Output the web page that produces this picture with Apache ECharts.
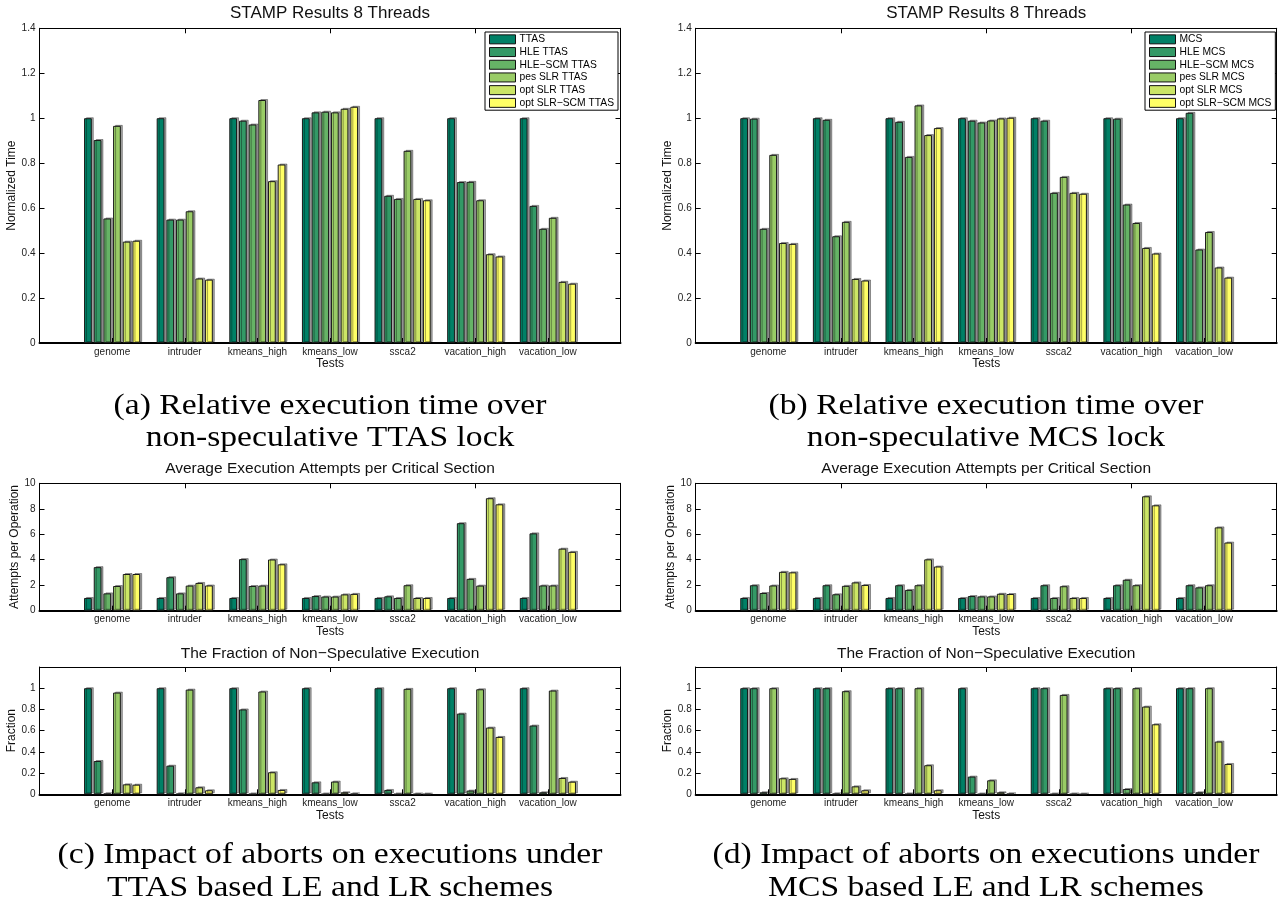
<!DOCTYPE html>
<html>
<head>
<meta charset="utf-8">
<script src="https://cdn.jsdelivr.net/npm/echarts@6/dist/echarts.min.js"></script>
<style>
  html, body { margin: 0; padding: 0; background: #fff; }
  #chart { width: 1285px; height: 909px; }
</style>
</head>
<body>
<div id="chart"></div>
<script>
// STAMP benchmarks, 8 threads
const tests = ['genome', 'intruder', 'kmeans_high', 'kmeans_low', 'ssca2', 'vacation_high', 'vacation_low'];
const ttasSchemes = ['TTAS', 'HLE TTAS', 'HLE\u2212SCM TTAS', 'pes SLR TTAS', 'opt SLR TTAS', 'opt SLR\u2212SCM TTAS'];
const mcsSchemes = ['MCS', 'HLE MCS', 'HLE\u2212SCM MCS', 'pes SLR MCS', 'opt SLR MCS', 'opt SLR\u2212SCM MCS'];
// summer colormap, one colour per scheme
const schemeColors = ['#008066', '#339966', '#66B366', '#99CC66', '#CCE666', '#FFFF66'];

// One row per scheme, one column per test
const ttasTime = [
  [1, 1, 1, 1, 1, 1, 1],
  [0.903, 0.549, 0.989, 1.026, 0.655, 0.716, 0.610],
  [0.554, 0.549, 0.972, 1.029, 0.641, 0.717, 0.508],
  [0.966, 0.586, 1.081, 1.026, 0.855, 0.635, 0.557],
  [0.451, 0.287, 0.720, 1.042, 0.641, 0.395, 0.272],
  [0.455, 0.282, 0.794, 1.051, 0.635, 0.385, 0.264]
];
const mcsTime = [
  [1, 1, 1, 1, 1, 1, 1],
  [0.998, 0.993, 0.984, 0.989, 0.989, 0.998, 1.024],
  [0.508, 0.475, 0.828, 0.981, 0.668, 0.616, 0.416],
  [0.837, 0.539, 1.057, 0.990, 0.739, 0.534, 0.494],
  [0.445, 0.285, 0.925, 0.999, 0.668, 0.423, 0.336],
  [0.441, 0.278, 0.956, 1.002, 0.664, 0.398, 0.291]
];
const ttasAttempts = [
  [1, 1, 1, 1, 1, 1, 1],
  [3.42, 2.63, 4.05, 1.15, 1.13, 6.87, 6.07],
  [1.36, 1.36, 1.94, 1.11, 1.00, 2.50, 1.98],
  [1.94, 1.97, 1.97, 1.11, 2.00, 1.97, 1.98],
  [2.88, 2.18, 4.02, 1.28, 1.00, 8.83, 4.87],
  [2.88, 1.98, 3.64, 1.32, 1.00, 8.35, 4.62]
];
const mcsAttempts = [
  [1, 1, 1, 1, 1, 1, 1],
  [2.00, 2.00, 2.00, 1.15, 2.00, 2.00, 2.00],
  [1.39, 1.29, 1.63, 1.12, 1.00, 2.43, 1.83],
  [1.98, 1.95, 2.00, 1.12, 1.92, 2.00, 2.00],
  [3.05, 2.22, 4.03, 1.33, 1.00, 8.98, 6.54],
  [3.01, 2.02, 3.47, 1.31, 1.00, 8.27, 5.35]
];
const ttasFallback = [
  [1, 1, 1, 1, 1, 1, 1],
  [0.314, 0.270, 0.800, 0.113, 0.041, 0.761, 0.648],
  [0.006, 0.005, 0.003, 0.002, 0.002, 0.035, 0.019],
  [0.959, 0.987, 0.969, 0.120, 0.994, 0.990, 0.978],
  [0.094, 0.066, 0.208, 0.019, 0.002, 0.629, 0.154],
  [0.091, 0.038, 0.041, 0.005, 0.001, 0.541, 0.119]
];
const mcsFallback = [
  [1, 1, 1, 1, 1, 1, 1],
  [1, 1, 1, 0.167, 1, 1, 1],
  [0.019, 0.005, 0.003, 0.002, 0.002, 0.050, 0.019],
  [1, 0.972, 1, 0.132, 0.937, 1, 1],
  [0.151, 0.075, 0.274, 0.019, 0.002, 0.827, 0.497],
  [0.145, 0.038, 0.038, 0.005, 0.001, 0.660, 0.286]
];

const SANS = 'Liberation Sans';
const SERIF = 'Liberation Serif';

const panels = [
  { grid: { left: 39.5, top: 28.3, width: 581, height: 314.7 }, rows: ttasTime, names: ttasSchemes,
    yMax: 1.4, yStep: 0.2, hideTop: false, yName: 'Normalized Time', yNameGap: 21, xNameGap: 14,
    title: 'STAMP Results 8 Threads', titleY: 13, titleSize: 17 },
  { grid: { left: 695.7, top: 28.3, width: 581, height: 314.7 }, rows: mcsTime, names: mcsSchemes,
    yMax: 1.4, yStep: 0.2, hideTop: false, yName: 'Normalized Time', yNameGap: 21, xNameGap: 14,
    title: 'STAMP Results 8 Threads', titleY: 13, titleSize: 17 },
  { grid: { left: 39.5, top: 483.3, width: 581, height: 127.4 }, rows: ttasAttempts, names: ttasSchemes,
    yMax: 10, yStep: 2, hideTop: false, yName: 'Attempts per Operation', yNameGap: 18, xNameGap: 14,
    title: 'Average Execution Attempts per Critical Section', titleY: 469, titleSize: 15.5 },
  { grid: { left: 695.7, top: 483.3, width: 581, height: 127.4 }, rows: mcsAttempts, names: mcsSchemes,
    yMax: 10, yStep: 2, hideTop: false, yName: 'Attempts per Operation', yNameGap: 18, xNameGap: 14,
    title: 'Average Execution Attempts per Critical Section', titleY: 469, titleSize: 15.5 },
  { grid: { left: 39.5, top: 667, width: 581, height: 127.3 }, rows: ttasFallback, names: ttasSchemes,
    yMax: 1.2, yStep: 0.2, hideTop: true, yName: 'Fraction', yNameGap: 20, xNameGap: 12,
    title: 'The Fraction of Non\u2212Speculative Execution', titleY: 654, titleSize: 15.5 },
  { grid: { left: 695.7, top: 667, width: 581, height: 127.3 }, rows: mcsFallback, names: mcsSchemes,
    yMax: 1.2, yStep: 0.2, hideTop: true, yName: 'Fraction', yNameGap: 20, xNameGap: 12,
    title: 'The Fraction of Non\u2212Speculative Execution', titleY: 654, titleSize: 15.5 }
];

const captions = [
  { x: 330, y: 406, text: '(a) Relative execution time over' },
  { x: 330, y: 438, text: 'non-speculative TTAS lock' },
  { x: 986, y: 406, text: '(b) Relative execution time over' },
  { x: 986, y: 438, text: 'non-speculative MCS lock' },
  { x: 330, y: 855, text: '(c) Impact of aborts on executions under' },
  { x: 330, y: 888, text: 'TTAS based LE and LR schemes' },
  { x: 986, y: 855, text: '(d) Impact of aborts on executions under' },
  { x: 986, y: 888, text: 'MCS based LE and LR schemes' }
];

// Empty slots at both ends give the axis its 0..8 span with the tests at 1..7
const slots = [''].concat(tests, ['']);

const grids = [], xAxes = [], yAxes = [], series = [], graphics = [];

panels.forEach((p, i) => {
  grids.push(Object.assign({ containLabel: false }, p.grid));
  const gx = i * 2, gy = i * 2;

  const tick = { show: true, inside: true, length: 5, lineStyle: { color: '#000', width: 1 } };
  // bottom category axis
  xAxes.push({
    gridIndex: i, type: 'category', data: slots, boundaryGap: false, position: 'bottom',
    axisLine: { show: true, onZero: false, lineStyle: { color: '#000', width: 2 } },
    axisTick: tick,
    axisLabel: { interval: 0, margin: 4, fontSize: 10, color: '#222', fontFamily: SANS },
    splitLine: { show: false },
    name: 'Tests', nameLocation: 'middle', nameGap: p.xNameGap,
    nameTextStyle: { fontSize: 12, color: '#111', fontFamily: SANS }
  });
  // top edge of the box
  xAxes.push({
    gridIndex: i, type: 'category', data: slots, boundaryGap: false, position: 'top',
    axisLine: { show: true, onZero: false, lineStyle: { color: '#000', width: 1 } },
    axisTick: tick, axisLabel: { show: false }, splitLine: { show: false }
  });
  const fmt = (v) => (p.hideTop && Math.abs(v - p.yMax) < 1e-9) ? '' : String(+v.toFixed(1));
  yAxes.push({
    gridIndex: i, type: 'value', min: 0, max: p.yMax, interval: p.yStep, position: 'left',
    axisLine: { show: true, onZero: false, lineStyle: { color: '#000', width: 1 } },
    axisTick: tick,
    axisLabel: { margin: 4, fontSize: 10, color: '#222', fontFamily: SANS, formatter: fmt },
    splitLine: { show: false },
    name: p.yName, nameLocation: 'middle', nameGap: p.yNameGap, nameRotate: 90,
    nameTextStyle: { fontSize: 12, color: '#111', fontFamily: SANS }
  });
  // right edge of the box
  yAxes.push({
    gridIndex: i, type: 'value', min: 0, max: p.yMax, interval: p.yStep, position: 'right',
    axisLine: { show: true, onZero: false, lineStyle: { color: '#000', width: 1 } },
    axisTick: tick, axisLabel: { show: false }, splitLine: { show: false }
  });

  p.rows.forEach((row, k) => {
    series.push({
      type: 'bar', name: p.names[k], xAxisIndex: gx, yAxisIndex: gy,
      data: [null].concat(row, [null]),
      barGap: '25%', barCategoryGap: '22.7%',
      itemStyle: {
        color: schemeColors[k], borderColor: '#1a1a1a', borderWidth: 1,
        shadowColor: 'rgba(0,0,0,0.35)', shadowOffsetX: 2, shadowOffsetY: -1, shadowBlur: 0
      },
      emphasis: { disabled: true },
      silent: true
    });
  });

  graphics.push({
    type: 'text', x: p.grid.left + p.grid.width / 2, y: p.titleY,
    style: { text: p.title, font: p.titleSize + 'px "' + SANS + '"', fill: '#111',
      textAlign: 'center', textVerticalAlign: 'middle', align: 'center', verticalAlign: 'middle' }
  });
});

// Captions are set a little wide, in the manner of a TeX roman face
captions.forEach((c) => {
  graphics.push({
    type: 'text', x: c.x, y: c.y, scaleX: 1.12,
    style: { text: c.text, font: '30px "' + SERIF + '"', fill: '#000',
      textAlign: 'center', textVerticalAlign: 'middle', align: 'center', verticalAlign: 'middle' }
  });
});

function legendFor(names, left) {
  return {
    data: names, orient: 'vertical', left: left, top: 32,
    itemWidth: 26, itemHeight: 9, itemGap: 0, icon: 'rect',
    padding: [1, 4, 1, 4], backgroundColor: '#fff', borderColor: '#000', borderWidth: 1,
    selectedMode: false,
    textStyle: { fontSize: 10.3, color: '#000', fontFamily: SANS, lineHeight: 12.7, padding: [0, 0, 0, -1] },
    itemStyle: { borderColor: '#111', borderWidth: 1, shadowColor: 'transparent', shadowOffsetX: 0, shadowOffsetY: 0 }
  };
}

const chart = echarts.init(document.getElementById('chart'), null, { renderer: 'canvas' });
chart.setOption({
  animation: false,
  backgroundColor: '#fff',
  grid: grids,
  xAxis: xAxes,
  yAxis: yAxes,
  legend: [legendFor(ttasSchemes, 485), legendFor(mcsSchemes, 1145)],
  series: series,
  graphic: graphics
});
</script>
</body>
</html>
